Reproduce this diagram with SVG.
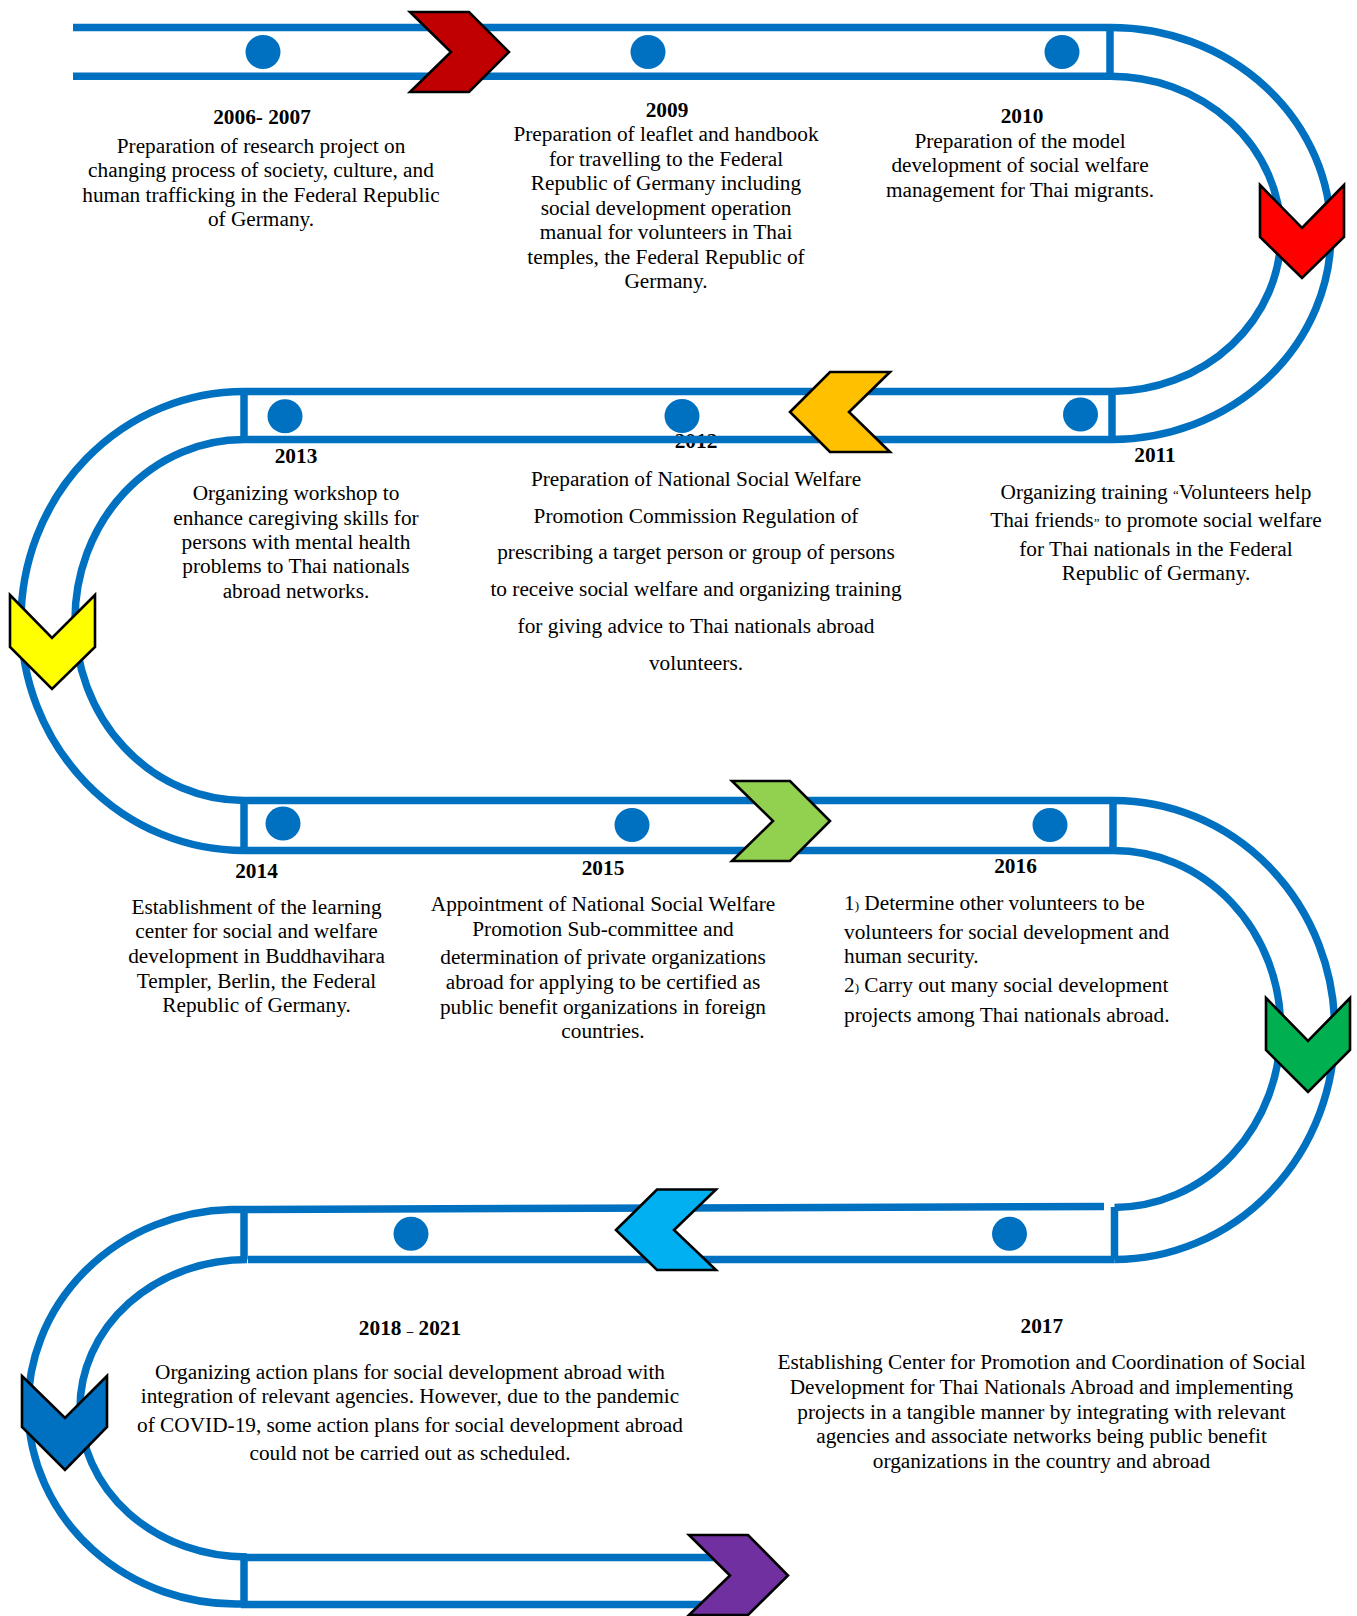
<svg xmlns="http://www.w3.org/2000/svg" width="1357" height="1616" viewBox="0 0 1357 1616">
<style>
text{font-family:"Liberation Serif","Times New Roman",serif;font-size:21.3px;fill:#000}
.yr{font-weight:bold;text-anchor:middle}
.c{text-anchor:middle}
.sm{font-size:13px}
.trk{fill:none;stroke:#0070C0;stroke-width:7.5}
.dot{fill:#0070C0}
.chev{stroke:#000;stroke-width:2.6;stroke-linejoin:miter}
</style>
<rect width="1357" height="1616" fill="#fff"/>

<g id="node-2006-2007">
<ellipse class="dot" cx="263" cy="52" rx="17.5" ry="17"/>
<text class="yr" x="262" y="123.5">2006- 2007</text>
<text class="c" x="261" y="152.5">Preparation of research project on</text>
<text class="c" x="261" y="177">changing process of society, culture, and</text>
<text class="c" x="261" y="201.5">human trafficking in the Federal Republic</text>
<text class="c" x="261" y="226">of Germany.</text>
</g>

<g id="node-2009">
<ellipse class="dot" cx="648" cy="52" rx="17.5" ry="17"/>
<text class="yr" x="667" y="116.5">2009</text>
<text class="c" x="666" y="141">Preparation of leaflet and handbook</text>
<text class="c" x="666" y="165.5">for travelling to the Federal</text>
<text class="c" x="666" y="190">Republic of Germany including</text>
<text class="c" x="666" y="214.5">social development operation</text>
<text class="c" x="666" y="239">manual for volunteers in Thai</text>
<text class="c" x="666" y="263.5">temples, the Federal Republic of</text>
<text class="c" x="666" y="288">Germany.</text>
</g>

<g id="node-2010">
<ellipse class="dot" cx="1062" cy="52" rx="17.5" ry="17"/>
<text class="yr" x="1022" y="123">2010</text>
<text class="c" x="1020" y="147.5">Preparation of the model</text>
<text class="c" x="1020" y="172">development of social welfare</text>
<text class="c" x="1020" y="196.5">management for Thai migrants.</text>
</g>

<g id="node-2011">
<ellipse class="dot" cx="1080.5" cy="414.5" rx="17.5" ry="17"/>
<text class="yr" x="1155" y="461.5">2011</text>
<text class="c" x="1156" y="499">Organizing training <tspan class="sm">“</tspan>Volunteers help</text>
<text class="c" x="1156" y="526.5">Thai friends<tspan class="sm">”</tspan> to promote social welfare</text>
<text class="c" x="1156" y="555.5">for Thai nationals in the Federal</text>
<text class="c" x="1156" y="580">Republic of Germany.</text>
</g>

<g id="node-2012">
<ellipse class="dot" cx="682" cy="416" rx="17.5" ry="17"/>
<text class="yr" x="696" y="448">2012</text>
<text class="c" x="696" y="486">Preparation of National Social Welfare</text>
<text class="c" x="696" y="522.7">Promotion Commission Regulation of</text>
<text class="c" x="696" y="559.4">prescribing a target person or group of persons</text>
<text class="c" x="696" y="596">to receive social welfare and organizing training</text>
<text class="c" x="696" y="632.8">for giving advice to Thai nationals abroad</text>
<text class="c" x="696" y="669.5">volunteers.</text>
</g>

<g id="node-2013">
<ellipse class="dot" cx="285" cy="416.3" rx="17.5" ry="17"/>
<text class="yr" x="296" y="463">2013</text>
<text class="c" x="296" y="500">Organizing workshop to</text>
<text class="c" x="296" y="524.5">enhance caregiving skills for</text>
<text class="c" x="296" y="549">persons with mental health</text>
<text class="c" x="296" y="573">problems to Thai nationals</text>
<text class="c" x="296" y="597.5">abroad networks.</text>
</g>

<g id="node-2014">
<ellipse class="dot" cx="283" cy="823.5" rx="17.5" ry="17"/>
<text class="yr" x="256.5" y="877.5">2014</text>
<text class="c" x="256.5" y="913.5">Establishment of the learning</text>
<text class="c" x="256.5" y="938">center for social and welfare</text>
<text class="c" x="256.5" y="962.5">development in Buddhavihara</text>
<text class="c" x="256.5" y="987.5">Templer, Berlin, the Federal</text>
<text class="c" x="256.5" y="1012">Republic of Germany.</text>
</g>

<g id="node-2015">
<ellipse class="dot" cx="632" cy="825" rx="17.5" ry="17"/>
<text class="yr" x="603" y="875">2015</text>
<text class="c" x="603" y="911">Appointment of National Social Welfare</text>
<text class="c" x="603" y="935.5">Promotion Sub-committee and</text>
<text class="c" x="603" y="964">determination of private organizations</text>
<text class="c" x="603" y="988.5">abroad for applying to be certified as</text>
<text class="c" x="603" y="1013.5">public benefit organizations in foreign</text>
<text class="c" x="603" y="1038">countries.</text>
</g>

<g id="node-2016">
<ellipse class="dot" cx="1050" cy="825" rx="17.5" ry="17"/>
<text class="yr" x="1015.5" y="873">2016</text>
<text x="844" y="909.5">1<tspan class="sm">)</tspan> Determine other volunteers to be</text>
<text x="844" y="938.5">volunteers for social development and</text>
<text x="844" y="963">human security.</text>
<text x="844" y="991.5">2<tspan class="sm">)</tspan> Carry out many social development</text>
<text x="844" y="1021.5">projects among Thai nationals abroad.</text>
</g>

<g id="node-2017">
<ellipse class="dot" cx="1009.5" cy="1233.7" rx="17.5" ry="17"/>
<text class="yr" x="1041.8" y="1333">2017</text>
<text class="c" x="1041.5" y="1369">Establishing Center for Promotion and Coordination of Social</text>
<text class="c" x="1041.5" y="1394">Development for Thai Nationals Abroad and implementing</text>
<text class="c" x="1041.5" y="1418.5">projects in a tangible manner by integrating with relevant</text>
<text class="c" x="1041.5" y="1443">agencies and associate networks being public benefit</text>
<text class="c" x="1041.5" y="1467.5">organizations in the country and abroad</text>
</g>

<g id="node-2018-2021">
<ellipse class="dot" cx="411" cy="1233.7" rx="17.5" ry="17"/>
<text class="yr" x="410" y="1335">2018 <tspan class="sm">–</tspan> 2021</text>
<text class="c" x="410" y="1378.5">Organizing action plans for social development abroad with</text>
<text class="c" x="410" y="1402.5">integration of relevant agencies. However, due to the pandemic</text>
<text class="c" x="410" y="1431.5">of COVID-19, some action plans for social development abroad</text>
<text class="c" x="410" y="1460">could not be carried out as scheduled.</text>
</g>

<g id="connectors">
<g class="trk">
<!-- row 1 -->
<line x1="73" y1="27.5" x2="1110" y2="27.5"/>
<line x1="73" y1="76.3" x2="1110" y2="76.3"/>
<line x1="1110" y1="27.5" x2="1110" y2="76.3"/>
<path d="M1110,27.5 A220,206 0 0 1 1112,439.5"/>
<path d="M1110,76.3 A170,157.6 0 0 1 1112,391.5"/>
<!-- row 2 -->
<line x1="244" y1="391.5" x2="1112" y2="391.5"/>
<line x1="244" y1="439.5" x2="1112" y2="439.5"/>
<line x1="1112" y1="391.5" x2="1112" y2="439.5"/>
<line x1="244" y1="391.5" x2="244" y2="439.5"/>
<path d="M244,391.5 A223,229.5 0 0 0 244,850.5"/>
<path d="M244,439.5 A169,180.5 0 0 0 244,800.5"/>
<!-- row 3 -->
<line x1="244" y1="800.5" x2="1113" y2="800.5"/>
<line x1="244" y1="850.5" x2="1113" y2="850.5"/>
<line x1="244" y1="800.5" x2="244" y2="850.5"/>
<line x1="1113" y1="800.5" x2="1113" y2="850.5"/>
<path d="M1113,800.5 A221,229.5 0 0 1 1114.5,1259.5"/>
<path d="M1113,850.5 A167,178.5 0 0 1 1114.5,1207.5"/>
<!-- row 4 -->
<line x1="231" y1="1209.5" x2="1104" y2="1206.5"/>
<line x1="248" y1="1259.5" x2="1114.5" y2="1259.5"/>
<line x1="1114.5" y1="1207" x2="1114.5" y2="1259.5"/>
<line x1="244" y1="1209.5" x2="244" y2="1259.5"/>
<path d="M231,1209.5 A208,197.3 0 0 0 241,1604"/>
<path d="M247,1259.5 A167,148.75 0 0 0 247,1557"/>
<!-- row 5 -->
<line x1="244" y1="1557.5" x2="715" y2="1557.5"/>
<line x1="241" y1="1604.5" x2="715" y2="1604.5"/>
<line x1="244" y1="1557" x2="244" y2="1604.5"/>
</g>
<g id="arrowheads">
<polygon class="chev" fill="#C00000" points="410,12 469,12 509,52 469,92 410,92 451,52"/>
<polygon class="chev" fill="#FF0000" points="1260,185 1302,228 1344,185 1344,237 1302,278 1260,237"/>
<polygon class="chev" fill="#FFC000" points="790,412 830,372 890,372 849,412 890,452 830,452"/>
<polygon class="chev" fill="#FFFF00" points="10,595 52,638 95,595 95,647 52,689 10,647"/>
<polygon class="chev" fill="#92D050" points="732,781 790,781 830,821 790,861 732,861 773,821"/>
<polygon class="chev" fill="#00B050" points="1266,998 1308,1041 1350,998 1350,1050 1308,1092 1266,1050"/>
<polygon class="chev" fill="#00B0F0" points="616,1230 657,1189.5 716,1189.5 674,1230 716,1270 657,1270"/>
<polygon class="chev" fill="#0070C0" points="22,1376 65,1418 107,1376 107,1427 65,1470 22,1427"/>
<polygon class="chev" fill="#7030A0" points="689,1535 748,1535 788,1575.5 748,1615 689,1615 730,1575.5"/>
</g>
</g>
</svg>
